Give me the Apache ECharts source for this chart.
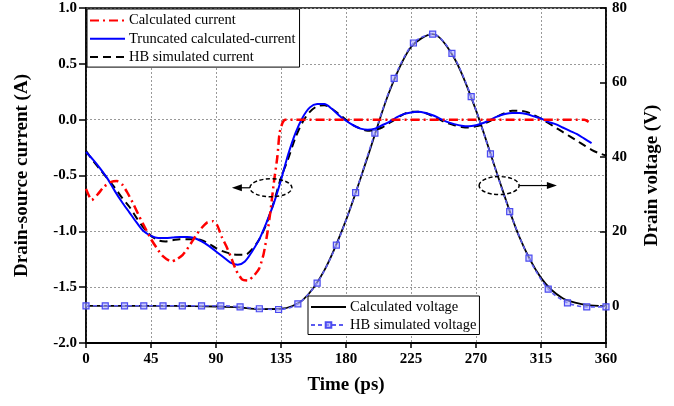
<!DOCTYPE html>
<html>
<head>
<meta charset="utf-8">
<script src="https://cdn.jsdelivr.net/npm/echarts@6/dist/echarts.min.js"></script>
<style>
html, body { margin: 0; padding: 0; background: #fff; }
#chart { width: 674px; height: 406px; }
</style>
</head>
<body>
<div id="chart"></div>
<script>
// time (ps) / current (A)
var calcCurT = [0, 4, 8, 12.5, 17, 21.5, 25, 28.5, 33, 37, 41, 45, 49, 53, 59, 63, 67, 70, 73.5, 77, 80, 84, 88, 91, 94, 97, 100, 104, 108, 112, 116, 120, 123, 125.5, 127.6, 130, 132.5, 134, 136, 138, 200, 260, 345, 348];
var calcCurI = [-0.62, -0.72, -0.67, -0.60, -0.56, -0.55, -0.58, -0.65, -0.76, -0.87, -0.97, -1.07, -1.15, -1.22, -1.27, -1.25, -1.21, -1.16, -1.09, -1.02, -0.97, -0.92, -0.91, -0.95, -1.05, -1.13, -1.22, -1.35, -1.43, -1.44, -1.40, -1.33, -1.20, -1.02, -0.83, -0.57, -0.33, -0.12, -0.03, 0, 0, 0, 0, -0.02];

var truncT = [0, 5, 10, 15, 20, 25, 30, 35, 40, 45, 50, 55, 60, 65, 70, 75, 80, 85, 90, 95, 100, 105, 110, 115, 120, 125, 130, 135, 140, 145, 150, 155, 160, 165, 170, 175, 180, 185, 190, 195, 200, 205, 210, 215, 220, 225, 230, 235, 240, 245, 250, 255, 260, 265, 270, 275, 280, 285, 290, 295, 300, 305, 310, 315, 320, 325, 330, 335, 340, 345, 350];
var truncI = [-0.29, -0.36, -0.44, -0.53, -0.64, -0.74, -0.83, -0.92, -1.00, -1.04, -1.06, -1.06, -1.055, -1.05, -1.05, -1.06, -1.09, -1.13, -1.18, -1.23, -1.28, -1.30, -1.27, -1.18, -1.07, -0.92, -0.75, -0.54, -0.31, -0.12, 0.02, 0.11, 0.14, 0.14, 0.10, 0.04, -0.01, -0.05, -0.08, -0.09, -0.08, -0.05, -0.02, 0.02, 0.05, 0.065, 0.07, 0.06, 0.04, 0.01, -0.02, -0.04, -0.055, -0.06, -0.05, -0.03, 0.0, 0.03, 0.05, 0.06, 0.06, 0.05, 0.03, 0.01, -0.02, -0.04, -0.07, -0.10, -0.13, -0.17, -0.21];

var hbCurT = [0, 5, 10, 15, 20, 25, 30, 35, 40, 45, 50, 55, 60, 65, 70, 75, 80, 85, 90, 95, 100, 105, 110, 115, 120, 125, 130, 135, 140, 145, 150, 155, 160, 165, 170, 175, 180, 185, 190, 195, 200, 205, 210, 215, 220, 225, 230, 235, 240, 245, 250, 255, 260, 265, 270, 275, 280, 285, 290, 295, 300, 305, 310, 315, 320, 325, 330, 335, 340, 345, 350, 355, 360];
var hbCurI = [-0.28, -0.37, -0.45, -0.53, -0.61, -0.70, -0.78, -0.88, -0.97, -1.04, -1.08, -1.09, -1.08, -1.07, -1.07, -1.07, -1.08, -1.11, -1.15, -1.18, -1.20, -1.21, -1.21, -1.16, -1.07, -0.93, -0.74, -0.52, -0.35, -0.16, -0.02, 0.07, 0.12, 0.13, 0.10, 0.05, 0.0, -0.05, -0.08, -0.10, -0.09, -0.07, -0.03, 0.01, 0.05, 0.07, 0.07, 0.06, 0.03, 0.0, -0.03, -0.05, -0.065, -0.07, -0.06, -0.04, -0.01, 0.03, 0.06, 0.08, 0.08, 0.07, 0.04, 0.01, -0.03, -0.07, -0.11, -0.15, -0.19, -0.23, -0.27, -0.30, -0.32];

// time (ps) / voltage (V)
var calcVoltT = [0, 15, 30, 45, 60, 75, 90, 105, 120, 135, 150, 165, 180, 195, 210, 225, 240, 255, 270, 285, 300, 315, 330, 345, 355];
var calcVoltV = [0, 0, 0, 0, 0, -0.1, -0.2, -0.4, -0.9, -0.8, 1.5, 9.5, 23, 40, 57.5, 69.5, 73, 66.5, 52.5, 35, 18.5, 7.5, 2, 0.3, 0];

var hbVoltT = [0, 13.33, 26.67, 40, 53.33, 66.67, 80, 93.33, 106.67, 120, 133.33, 146.67, 160, 173.33, 186.67, 200, 213.33, 226.67, 240, 253.33, 266.67, 280, 293.33, 306.67, 320, 333.33, 346.67, 360];
var hbVoltV = [0, 0, 0, 0, 0, 0, 0, 0, -0.3, -0.8, -1.0, 0.5, 6.1, 16.3, 30.4, 46.4, 61.1, 70.6, 73.0, 67.8, 56.2, 40.8, 25.3, 12.8, 4.5, 0.8, -0.3, -0.3];

var voltTicks = [0, 20, 40, 60, 80];

function pairs(xs, ys) {
	return xs.map(function(x, i) { return [x, ys[i]]; });
}

var serif = 'Liberation Serif';
var chart = echarts.init(document.getElementById('chart'));

// legend entries that show only the line, no symbol
function lineOnly(name) {
	return { name: name, itemStyle: { opacity: 0 } };
}

var legendBase = {
	orient: 'vertical',
	itemWidth: 35, itemHeight: 7, itemGap: 3.3,
	padding: [4, 4, 2.5, 2],
	borderColor: '#000', borderWidth: 1, backgroundColor: '#fff',
	textStyle: { fontFamily: serif, fontSize: 14.5, color: '#000', padding: [0, 0, 0, -1] }
};

var option = {
	animation: false,
	backgroundColor: '#fff',
	grid: {
		left: 86, right: 68, top: 8, bottom: 63,
		show: true, borderColor: '#000', borderWidth: 1.5, backgroundColor: 'transparent'
	},
	legend: [Object.assign({}, legendBase, {
		data: [lineOnly('Calculated current'), lineOnly('Truncated calculated-current'), lineOnly('HB simulated current')],
		left: 87, top: 9
	}), Object.assign({}, legendBase, {
		data: [lineOnly('Calculated voltage'), 'HB simulated voltage'],
		left: 308, top: 296,
		itemGap: 3,
		padding: [3.5, 3, 2, 2]
	})],
	xAxis: {
		type: 'value', min: 0, max: 360, interval: 45,
		name: 'Time (ps)', nameLocation: 'middle', nameGap: 33,
		nameTextStyle: { fontFamily: serif, fontWeight: 'bold', fontSize: 19, color: '#000' },
		axisLine: { onZero: false, lineStyle: { color: '#000', width: 2 } },
		axisTick: { length: 5, lineStyle: { color: '#000', width: 1.5 } },
		axisLabel: { fontFamily: serif, fontWeight: 'bold', fontSize: 15, color: '#000', margin: 9 },
		splitLine: { show: true, lineStyle: { color: '#999', type: [2, 2], width: 1 } }
	},
	yAxis: [{
		type: 'value', min: -2, max: 1, interval: 0.5,
		name: 'Drain-source current (A)', nameLocation: 'middle', nameGap: 54, nameRotate: 90,
		nameTextStyle: { fontFamily: serif, fontWeight: 'bold', fontSize: 19, color: '#000' },
		axisLine: { show: true, onZero: false, lineStyle: { color: '#000', width: 1.5 } },
		axisTick: { show: true, length: 7, lineStyle: { color: '#000', width: 1.5 } },
		axisLabel: {
			fontFamily: serif, fontWeight: 'bold', fontSize: 15, color: '#000', margin: 9,
			formatter: function(v) { return v.toFixed(1); }
		},
		splitLine: { show: true, lineStyle: { color: '#999', type: [2, 2], width: 1 } }
	}, {
		type: 'value', min: -10, max: 80, position: 'right',
		name: 'Drain voltage (V)', nameLocation: 'middle', nameGap: 37, nameRotate: 90,
		nameTextStyle: { fontFamily: serif, fontWeight: 'bold', fontSize: 19, color: '#000' },
		axisLine: { show: true, onZero: false, lineStyle: { color: '#000', width: 1.5 } },
		axisTick: { show: true, inside: true, length: 6, customValues: voltTicks, lineStyle: { color: '#000', width: 1.5 } },
		axisLabel: { fontFamily: serif, fontWeight: 'bold', fontSize: 15, color: '#000', margin: 6, customValues: voltTicks },
		splitLine: { show: false }
	}],
	series: [{
		name: 'Calculated voltage', type: 'line', yAxisIndex: 1,
		data: pairs(calcVoltT, calcVoltV), smooth: 0.3, symbol: 'none', z: 2,
		lineStyle: { color: '#000', width: 1.8 }, itemStyle: { color: '#000' }
	}, {
		name: 'HB simulated voltage', type: 'line', yAxisIndex: 1,
		data: pairs(hbVoltT, hbVoltV), smooth: 0.3, symbol: 'rect', symbolSize: 6, z: 3,
		lineStyle: { color: '#5a5af0', width: 1.6, type: [4, 3] },
		itemStyle: { color: 'rgba(175,175,255,0.6)', borderColor: '#4b4bf0', borderWidth: 1.2 }
	}, {
		name: 'HB simulated current', type: 'line',
		data: pairs(hbCurT, hbCurI), smooth: 0.3, symbol: 'none', z: 4,
		lineStyle: { color: '#000', width: 2, type: [8, 5] }, itemStyle: { color: '#000' }
	}, {
		name: 'Truncated calculated-current', type: 'line',
		data: pairs(truncT, truncI), smooth: 0.3, symbol: 'none', z: 5,
		lineStyle: { color: '#0000ff', width: 2 }, itemStyle: { color: '#0000ff' }
	}, {
		name: 'Calculated current', type: 'line',
		data: pairs(calcCurT, calcCurI), smooth: 0.2, symbol: 'none', z: 6,
		lineStyle: { color: '#ff0000', width: 2.5, type: [9, 4, 2, 4] }, itemStyle: { color: '#ff0000' }
	}]
};

chart.setOption(option);

// dashed ellipses with arrows pointing at the axis each group belongs to
function annotation(center, tipT, rx, ry) {
	var c = chart.convertToPixel({ xAxisIndex: 0, yAxisIndex: 0 }, center);
	var tip = chart.convertToPixel({ xAxisIndex: 0, yAxisIndex: 0 }, [tipT, center[1]]);
	var dir = tip[0] < c[0] ? -1 : 1;
	var start = c[0] + dir * rx;
	return [{
		type: 'ellipse', z: 20,
		shape: { cx: c[0], cy: c[1], rx: rx, ry: ry },
		style: { fill: 'none', stroke: '#000', lineWidth: 1.5, lineDash: [4, 2.5] }
	}, {
		type: 'line', z: 20,
		shape: { x1: start, y1: c[1], x2: tip[0] - dir * 6, y2: c[1] },
		style: { stroke: '#000', lineWidth: 1.2 }
	}, {
		type: 'polygon', z: 20,
		shape: { points: [[tip[0], c[1]], [tip[0] - dir * 10, c[1] - 3.5], [tip[0] - dir * 10, c[1] + 3.5]] },
		style: { fill: '#000' }
	}];
}

chart.setOption({
	graphic: annotation([128, -0.61], 101, 21, 9).concat(annotation([286, -0.59], 326, 20, 9))
});
</script>
</body>
</html>
